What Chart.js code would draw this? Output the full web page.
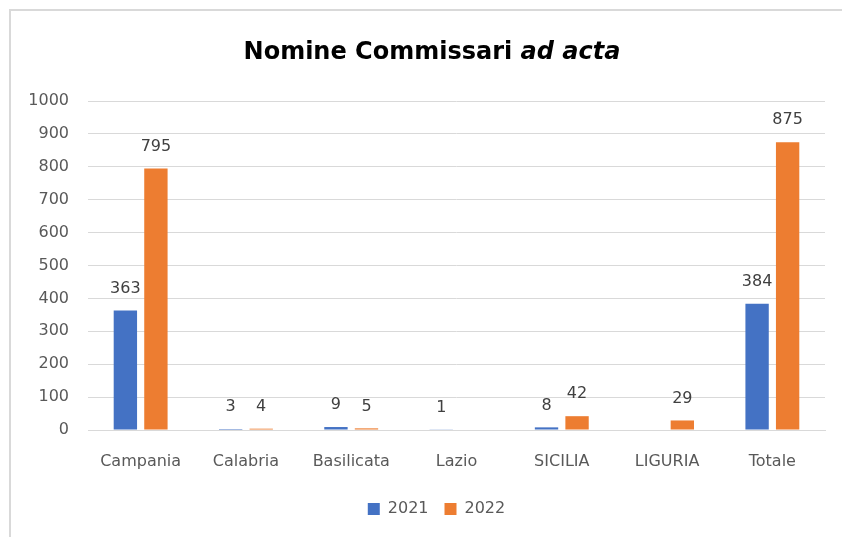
<!DOCTYPE html>
<html>
<head>
<meta charset="utf-8">
<script src="https://cdn.jsdelivr.net/npm/chart.js@4"></script>
<style>
  html, body { margin: 0; padding: 0; background: #fff; }
  #wrap { position: relative; width: 842px; height: 537px; }
</style>
</head>
<body>
<div id="wrap"><canvas id="chart" width="842" height="537"></canvas></div>
<script>
const categories = ['Campania', 'Calabria', 'Basilicata', 'Lazio', 'SICILIA', 'LIGURIA', 'Totale'];
const values2021 = [363, 3, 9, 1, 8, null, 384];
const values2022 = [795, 4, 5, null, 42, 29, 875];
const yTicks = [0, 100, 200, 300, 400, 500, 600, 700, 800, 900, 1000];

const textFont = '"DejaVu Sans", sans-serif';

    // frame + title drawn by hand (title mixes bold and italic)
const decor = {
    id: 'decor',
    afterLayout(c) {
        // legend sits a little right of the canvas centre
        c.legend.left += 10;
        c.legend.right += 10;
    },
    beforeDraw(c) {
        const ctx = c.ctx;
        ctx.save();
        ctx.fillStyle = '#fff';
        ctx.fillRect(0, 0, c.width, c.height);
        ctx.fillStyle = '#d9d9d9';
        ctx.fillRect(9, 9, c.width - 9, 2);
        ctx.fillRect(9, 9, 2, c.height - 9);
        ctx.restore();
    },
    afterDraw(c) {
        const ctx = c.ctx;
        ctx.save();
        ctx.fillStyle = '#000';
        ctx.textBaseline = 'middle';
        const a = 'Nomine Commissari ';
        const b = 'ad acta';
        const fa = 'bold 24px "DejaVu Sans", sans-serif';
        const fb = 'italic bold 24px "DejaVu Sans", sans-serif';
        ctx.font = fa;
        const wa = ctx.measureText(a).width;
        ctx.font = fb;
        const wb = ctx.measureText(b).width;
        const x0 = 432 - (wa + wb) / 2;
        ctx.font = fa;
        ctx.fillText(a, x0, 53);
        ctx.font = fb;
        ctx.fillText(b, x0 + wa, 53);
        ctx.restore();
    }
};

    // value labels above each bar
const valueLabels = {
    id: 'valueLabels',
    afterDatasetsDraw(c) {
        const ctx = c.ctx;
        ctx.save();
        ctx.font = '16px ' + textFont;
        ctx.fillStyle = '#404040';
        ctx.textAlign = 'center';
        ctx.textBaseline = 'middle';
        c.data.datasets.forEach((ds, i) => {
            c.getDatasetMeta(i).data.forEach((bar, j) => {
                const v = ds.data[j];
                if (v === null || v === undefined) return;
                ctx.fillText(String(v), bar.x, bar.y - 22);
            });
        });
        ctx.restore();
    }
};

new Chart(document.getElementById('chart'), {
    type: 'bar',
    data: {
        labels: categories,
        datasets: [
            { label: '2021', data: values2021, backgroundColor: '#4472C4' },
            { label: '2022', data: values2022, backgroundColor: '#ED7D31' }
        ]
    },
    options: {
        responsive: false,
        animation: false,
        categoryPercentage: 0.58,
        barPercentage: 0.765,
        layout: { padding: { top: 101, left: 28, right: 17, bottom: 10 } },
        plugins: {
            legend: {
                position: 'bottom',
                labels: {
                    boxWidth: 12,
                    boxHeight: 12,
                    padding: 16,
                    color: '#595959',
                    font: { family: textFont, size: 16 }
                }
            },
            tooltip: { enabled: false },
            title: { display: false }
        },
        scales: {
            x: {
                afterFit(axis) { axis.height = 55; },
                grid: { display: false, drawTicks: false },
                border: { color: '#d9d9d9', width: 1 },
                ticks: { color: '#595959', padding: 22, font: { family: textFont, size: 16 } }
            },
            y: {
                min: 0,
                max: 1000,
                afterBuildTicks(axis) { axis.ticks = yTicks.map(v => ({ value: v })); },
                afterFit(axis) { axis.width = 60; },
                grid: { color: '#d9d9d9', drawTicks: false },
                border: { display: false },
                ticks: {
                    color: '#595959',
                    padding: 19,
                    font: { family: textFont, size: 16 },
                    callback: v => String(v)
                }
            }
        }
    },
    plugins: [decor, valueLabels]
});
</script>
</body>
</html>
